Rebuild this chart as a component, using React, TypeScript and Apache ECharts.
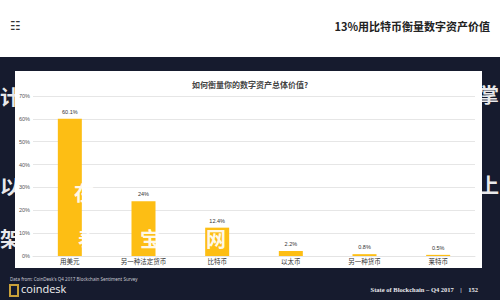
import React, { useEffect, useRef } from "react";
import * as echarts from "echarts";

const categories = ["用美元", "另一种法定货币", "比特币", "以太币", "另一种货币", "莱特币"];
const values = [60.1, 24, 12.4, 2.2, 0.8, 0.5];
const valueLabels = ["60.1%", "24%", "12.4%", "2.2%", "0.8%", "0.5%"];
const yTicks = [0, 10, 20, 30, 40, 50, 60, 70];

const chartTitle = "如何衡量你的数字资产总体价值?";
const headline = "13%用比特币衡量数字资产价值";
const sourceText = "Data from: CoinDesk's Q4 2017 Blockchain Sentiment Survey";
const footerText = "State of Blockchain – Q4 2017    |    152";

const overlayChars = [
  { t: "计", x: 0, y: 86 },
  { t: "掌", x: 479, y: 84 },
  { t: "以", x: 0, y: 176 },
  { t: "在", x: 74, y: 182 },
  { t: "上", x: 479, y: 174 },
  { t: "架", x: 0, y: 228 },
  { t: "表", x: 78, y: 228 },
  { t: "宝", x: 140, y: 228 },
  { t: "网", x: 206, y: 228 },
];

export default function App() {
  const ref = useRef<HTMLDivElement>(null);
  useEffect(() => {
    if (!ref.current) return;
    const chart = echarts.init(ref.current, undefined, { renderer: "svg" });
    const navy = "#161b2e";
    const gold = "#fdbe14";
    chart.setOption({
      animation: false,
      backgroundColor: navy,
      title: {
        text: chartTitle,
        left: "center",
        top: 75,
        textStyle: { fontSize: 8, fontWeight: "bold", color: "#444", fontFamily: "Noto Sans CJK SC" },
      },
      grid: { left: 33, right: 25, top: 96, bottom: 44, containLabel: false },
      xAxis: {
        type: "category",
        data: categories,
        axisLine: { show: true, lineStyle: { color: "#e4e4e4" } },
        axisTick: { show: false },
        axisLabel: { fontSize: 6.5, color: "#333", margin: 2, fontFamily: "Noto Sans CJK SC" },
      },
      yAxis: {
        type: "value",
        min: 0,
        max: 70,
        interval: 10,
        axisLine: { show: false },
        axisTick: { show: false },
        axisLabel: {
          fontSize: 5.5,
          color: "#555",
          margin: 3,
          formatter: (v: number) => (yTicks.includes(v) ? v + "%" : ""),
        },
        splitLine: { lineStyle: { color: "#e6e6e6", width: 1 } },
      },
      series: [
        {
          type: "bar",
          data: values,
          barWidth: 24,
          itemStyle: { color: gold },
          z: 3,
          label: {
            show: true,
            position: "top",
            distance: 4,
            fontSize: 5.5,
            color: "#333",
            formatter: (p: any) => valueLabels[p.dataIndex],
          },
        },
      ],
      graphic: [
        { type: "rect", z: -10, shape: { x: 0, y: 0, width: 500, height: 57 }, style: { fill: "#ffffff" } },
        { type: "rect", z: -10, shape: { x: 15, y: 71, width: 467, height: 197 }, style: { fill: "#ffffff" } },
        {
          type: "text",
          x: 10,
          y: 20,
          style: { text: "☷", fontSize: 12, fill: "#333", fontFamily: "DejaVu Sans" },
        },
        {
          type: "text",
          x: 490,
          y: 20,
          style: {
            text: headline,
            fontSize: 11,
            fontWeight: "bold",
            fill: "#222",
            align: "right",
            fontFamily: "Noto Sans CJK SC",
          },
        },
        {
          type: "text",
          x: 10,
          y: 276,
          style: { text: sourceText, fontSize: 4.5, fill: "#c8cad2", fontFamily: "Noto Sans" },
        },
        {
          type: "rect",
          shape: { x: 10, y: 285, width: 8, height: 11 },
          style: { fill: "none", stroke: "#c9a13a", lineWidth: 2 },
        },
        {
          type: "text",
          x: 21,
          y: 283,
          style: { text: "coindesk", fontSize: 11, fill: "#f2f2f2", fontFamily: "Open Sans" },
        },
        {
          type: "text",
          x: 478,
          y: 286,
          style: {
            text: footerText,
            fontSize: 6.5,
            fontWeight: "bold",
            fill: "#e8e8ec",
            align: "right",
            fontFamily: "Liberation Serif",
          },
        },
        ...overlayChars.map((c) => ({
          type: "text",
          x: c.x,
          y: c.y,
          z: 20,
          style: {
            text: c.t,
            fontSize: 20,
            fontWeight: "bold",
            fill: "rgba(255,255,255,0.92)",
            fontFamily: "Noto Sans CJK SC",
          },
        })),
      ],
    });
    return () => chart.dispose();
  }, []);
  return <div ref={ref} style={{ position: "fixed", left: 0, top: 0, width: 500, height: 300 }} />;
}
